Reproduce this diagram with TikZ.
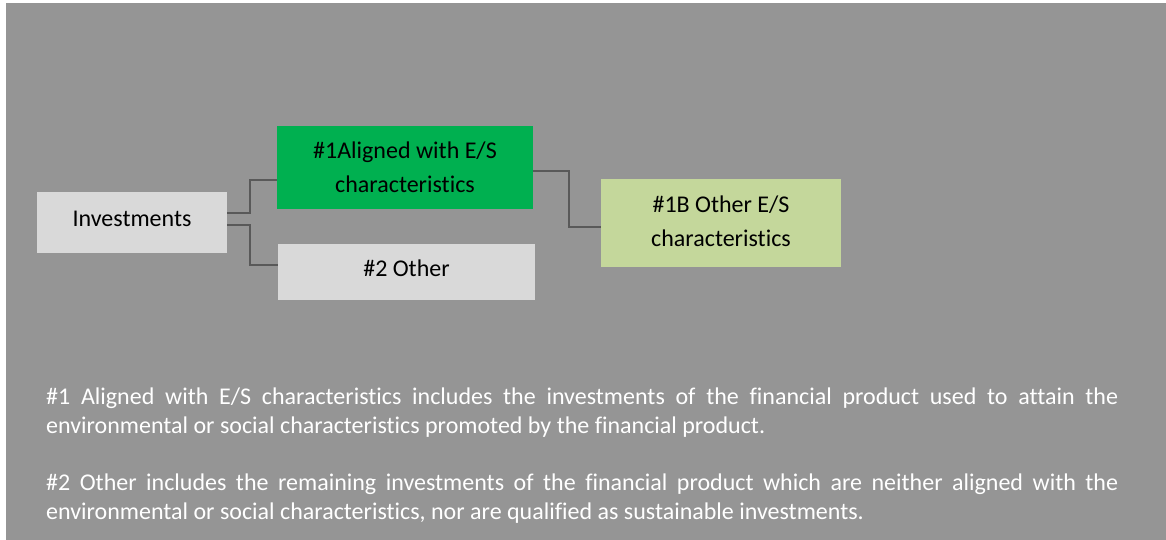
\documentclass[tikz,border=0pt]{standalone}
\usepackage{fontspec}
\setmainfont{Carlito}[Ligatures=NoCommon]
\hyphenpenalty=10000
\exhyphenpenalty=10000
\definecolor{bggray}{RGB}{149,149,149}
\definecolor{boxgray}{RGB}{217,217,217}
\definecolor{esgreen}{RGB}{0,176,80}
\definecolor{olivelight}{RGB}{196,215,155}
\definecolor{linegray}{RGB}{89,89,89}
\tikzset{
  catbox/.style={draw=none, align=center, inner sep=0pt,
    font=\fontsize{24}{34}\selectfont},
  oneline/.style={text depth=8pt},
  link/.style={linegray, line width=1.5pt},
  note/.style={anchor=north west, inner sep=0pt, text=white, text width=1072pt,
    align=justify, font=\fontsize{24}{29}\selectfont}
}
\begin{document}
\begin{tikzpicture}[x=1pt, y=-1pt]
        \useasboundingbox (0, 0) rectangle (1166, 540);
        \fill[bggray] (6, 3) rectangle (1166, 540);
        \node[catbox, oneline, fill=boxgray, minimum width=190pt, minimum height=61pt] (inv) at (132, 222.5) {Investments};
        \node[catbox, text depth=-4pt, fill=esgreen, minimum width=256pt, minimum height=83pt] (aligned) at (405, 167.5) {\#1Aligned with E/S\\characteristics};
        \node[catbox, oneline, fill=boxgray, minimum width=257pt, minimum height=56pt] (other) at (406.5, 272) {\#2 Other};
        \node[catbox, text depth=4pt, fill=olivelight, minimum width=240pt, minimum height=88pt] (otheres) at (721, 223) {\#1B Other E/S\\characteristics};
        \draw[link] (inv.east |- 0, 213) -| (250, 180) -- (aligned.west |- 0, 180);
        \draw[link] (inv.east |- 0, 225) -| (250, 265) -- (other.west |- 0, 265);
        \draw[link] (aligned.east |- 0, 171) -| (569, 227) -- (otheres.west |- 0, 227);
        \node[note] (note1) at (46, 388) {\#1 Aligned with E/S characteristics includes the investments of the financial product used to attain the environmental or social characteristics promoted by the financial product.};
        \node[note] (note2) at (46, 474) {\#2 Other includes the remaining investments of the financial product which are neither aligned with the environmental or social characteristics, nor are qualified as sustainable investments.};

    \end{tikzpicture}
\end{document}
